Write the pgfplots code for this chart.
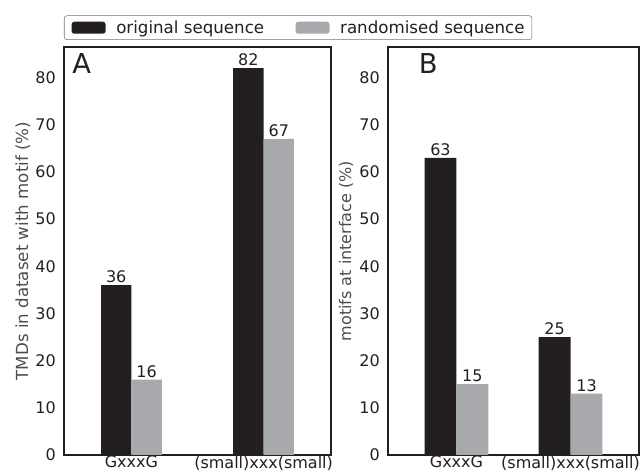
\documentclass[border=0pt]{standalone}
\usepackage{pgfplots}
\pgfplotsset{compat=1.18}
\usepackage{fontspec}
\setmainfont{DejaVu Sans}
\definecolor{barblack}{HTML}{231F20}
\definecolor{bargray}{HTML}{A7A9AC}
\definecolor{labgray}{HTML}{4D4D4F}
\pgfplotsset{
  panel/.style={
    scale only axis,
    height=306pt,
    ybar=0pt,
    ymin=0, ymax=86.5,
    ytick={0,10,...,80},
    xtick=data,
    major tick length=0pt,
    axis line style={barblack, line width=0.8pt},
    tick label style={font=\fontsize{12}{14}\selectfont, text=barblack},
    /pgf/number format/assume math mode=true,
    nodes near coords,
    every node near coord/.append style={font=\fontsize{12}{14}\selectfont, inner sep=1.5pt, text=barblack},
    xticklabel style={inner sep=0pt, yshift=-0.5pt},
    yticklabel style={inner sep=0pt, xshift=-6pt},
  },
  barleg/.style={legend image code/.code={\fill[##1] (0pt,-4.5pt) rectangle (25.5pt,4.5pt);}},
}
\begin{document}
\begin{tikzpicture}
\useasboundingbox (-48pt,-12pt) rectangle (432pt,341.25pt);
\begin{axis}[panel,
  width=200.25pt,
  xmin=-0.51, xmax=1.51,
  bar width=0.23,
  xticklabels={GxxxG,(small)xxx(small)},
  ylabel={TMDs in dataset with motif (\%)},
  ylabel style={font=\fontsize{12.5}{14}\selectfont, text=labgray, at={(axis description cs:0,0.5)}, anchor=center, yshift=30.75pt},
  legend columns=2,
  legend style={at={(0,1)}, anchor=south west, yshift=5.25pt,
    draw=black!55, rounded corners=2pt, font=\fontsize{12.5}{14}\selectfont,
    inner xsep=5.5pt, inner ysep=1.5pt,
    nodes={inner xsep=0pt, inner ysep=2pt, text=barblack},
    /tikz/every odd column/.append style={column sep=8pt},
    /tikz/every even column/.append style={column sep=23.5pt}},
]
\addplot[fill=barblack, draw=none, barleg] coordinates {(0,36) (1,82)};
\addplot[fill=bargray, draw=none, barleg] coordinates {(0,16) (1,67)};
\legend{original sequence, randomised sequence}
\node[anchor=north west, font=\fontsize{20.5}{22}\selectfont, inner sep=0pt, text=barblack] at (rel axis cs:0,1) [xshift=6pt, yshift=-5pt] {A};
\end{axis}
\begin{axis}[panel,
  at={(243pt,0pt)},
  width=188.25pt,
  xmin=-0.6, xmax=1.6,
  bar width=0.28,
  xticklabels={GxxxG,(small)xxx(small)},
  ylabel={motifs at interface (\%)},
  ylabel style={font=\fontsize{12}{14}\selectfont, text=labgray, at={(axis description cs:0,0.5)}, anchor=center, yshift=31.5pt},
]
\addplot[fill=barblack, draw=none] coordinates {(0,63) (1,25)};
\addplot[fill=bargray, draw=none] coordinates {(0,15) (1,13)};
\node[anchor=north west, font=\fontsize{20.5}{22}\selectfont, inner sep=0pt, text=barblack] at (rel axis cs:0,1) [xshift=23pt, yshift=-5pt] {B};
\end{axis}
\end{tikzpicture}
\end{document}
